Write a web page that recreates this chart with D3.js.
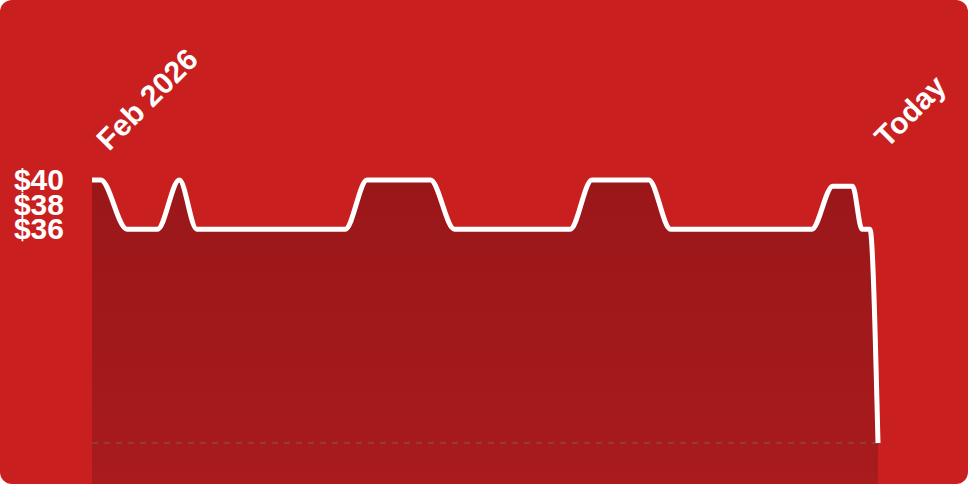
<!DOCTYPE html>
<html>
<head>
<meta charset="utf-8">
<script src="https://cdn.jsdelivr.net/npm/d3@7"></script>
<style>
  html, body { margin: 0; padding: 0; background: #fff; }
  svg { display: block; }
  text { font-family: "Liberation Sans", Arial, sans-serif; font-weight: bold; fill: #fff; }
</style>
</head>
<body>
<div id="chart"></div>
<script>
// price history, Feb 2026 -> today
const dates = [
  '2026-02-01T00:00', '2026-02-02T00:00', '2026-02-05T00:00', '2026-02-08T12:00',
  '2026-02-11T00:00', '2026-02-13T00:00', '2026-03-02T00:00', '2026-03-04T12:00',
  '2026-03-11T18:00', '2026-03-14T12:00', '2026-03-27T18:00', '2026-03-30T06:00',
  '2026-04-05T18:00', '2026-04-08T06:00', '2026-04-24T10:00', '2026-04-26T20:00',
  '2026-04-29T02:00', '2026-04-30T04:00', '2026-05-01T02:00', '2026-05-02T00:00'
];
const prices = [40, 40, 36, 36, 40, 36, 36, 40, 40, 36, 36, 40, 40, 36, 36, 39.5, 39.5, 36, 36, 18.6];
const tickValues = [40, 38, 36];
const startLabel = 'Feb 2026';
const endLabel = 'Today';

const width = 968, height = 484;
const margin = {top: 180, right: 90, bottom: 41, left: 92};

const parse = d3.timeParse('%Y-%m-%dT%H:%M');
const data = dates.map((d, i) => ({date: parse(d), price: prices[i]}));

const svg = d3.select('#chart').append('svg')
  .attr('width', width)
  .attr('height', height);

// gradient for the area under the line
const grad = svg.append('defs').append('linearGradient')
  .attr('id', 'areaFill')
  .attr('x1', 0).attr('y1', 0).attr('x2', 0).attr('y2', 1);
grad.append('stop').attr('offset', '0%').attr('stop-color', '#9a1719');
grad.append('stop').attr('offset', '100%').attr('stop-color', '#a91b1c');

// card background
svg.append('rect')
  .attr('width', width)
  .attr('height', height)
  .attr('rx', 12)
  .attr('fill', '#c91f1f');

const x = d3.scaleTime()
  .domain(d3.extent(data, d => d.date))
  .range([margin.left, width - margin.right]);

const y = d3.scaleLinear()
  .domain([d3.min(prices), d3.max(prices)])
  .range([height - margin.bottom, margin.top]);

const area = d3.area()
  .x(d => x(d.date))
  .y0(height)
  .y1(d => y(d.price))
  .curve(d3.curveMonotoneX);

const line = d3.line()
  .x(d => x(d.date))
  .y(d => y(d.price))
  .curve(d3.curveMonotoneX);

svg.append('path')
  .datum(data)
  .attr('d', area)
  .attr('fill', 'url(#areaFill)');

// baseline at the lowest price
svg.append('line')
  .attr('x1', x.range()[0])
  .attr('x2', x.range()[1])
  .attr('y1', y(d3.min(prices)))
  .attr('y2', y(d3.min(prices)))
  .attr('stroke', '#8a4a4a')
  .attr('stroke-opacity', 0.9)
  .attr('stroke-width', 1.5)
  .attr('stroke-dasharray', '6,6');

svg.append('path')
  .datum(data)
  .attr('d', line)
  .attr('fill', 'none')
  .attr('stroke', '#fff')
  .attr('stroke-width', 5)
  .attr('stroke-linejoin', 'round');

// price labels
const yAxis = d3.axisLeft(y)
  .tickValues(tickValues)
  .tickFormat(d => '$' + d)
  .tickSize(0)
  .tickPadding(0);

const gy = svg.append('g')
  .attr('transform', 'translate(64,0)')
  .call(yAxis);
gy.select('.domain').remove();
gy.selectAll('text')
  .attr('fill', '#fff')
  .style('font-size', '30px')
  .style('font-family', '"Liberation Sans", Arial, sans-serif')
  .style('font-weight', 'bold');

// rotated date labels
const first = data[0].date, last = data[data.length - 1].date;
svg.append('text')
  .attr('transform', `translate(${x(first) + 17},${152}) rotate(-45)`)
  .style('font-size', '30px')
  .text(startLabel);
svg.append('text')
  .attr('transform', `translate(${x(last) + 9},${149}) rotate(-45)`)
  .style('font-size', '30px')
  .text(endLabel);
</script>
</body>
</html>
